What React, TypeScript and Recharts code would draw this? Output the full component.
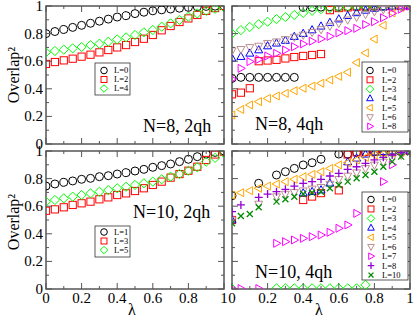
import React from "react";
import { ScatterChart, Scatter, XAxis, YAxis, ReferenceArea } from "recharts";

const W = 415;
const H = 319;
const FONT = "'Liberation Serif', 'DejaVu Serif', serif";
const FRAME = "#555";

const BLACK = "#000000";
const RED = "#ff0000";
const GREEN = "#00ff00";
const BLUE = "#0000ff";
const ORANGE = "#ffa500";
const BROWN = "#bc8f8f";
const MAGENTA = "#ff00ff";
const VIOLET = "#9400d3";
const DKGREEN = "#008b00";

// lambda grid shared by all panels
const lambda = [0, 0.05, 0.1, 0.15, 0.2, 0.25, 0.3, 0.35, 0.4, 0.45, 0.5, 0.55, 0.6, 0.65, 0.7, 0.75, 0.8, 0.85, 0.9, 0.95, 1];
const axisTicks = [0, 0.1, 0.2, 0.3, 0.4, 0.5, 0.6, 0.7, 0.8, 0.9, 1];
const tickLabels = ["0", "0.2", "0.4", "0.6", "0.8", "1"];

// N=8, 2qh
const n8q2L0 = [0.8, 0.815, 0.83, 0.845, 0.86, 0.875, 0.89, 0.905, 0.92, 0.93, 0.945, 0.955, 0.965, 0.972, 0.978, 0.984, 0.99, 0.994, 0.997, 0.999, 1.0];
const n8q2L2 = [0.58, 0.594, 0.606, 0.618, 0.633, 0.647, 0.664, 0.681, 0.7, 0.717, 0.739, 0.763, 0.79, 0.824, 0.855, 0.884, 0.91, 0.935, 0.965, 0.985, 1.0];
const n8q2L4 = [0.664, 0.674, 0.684, 0.693, 0.703, 0.717, 0.727, 0.741, 0.758, 0.773, 0.79, 0.809, 0.826, 0.85, 0.874, 0.899, 0.923, 0.946, 0.965, 0.98, 0.99];

// N=8, 4qh
const n8q4L0 = [0.475, 0.483, 0.483, 0.483, 0.483, 0.483, 0.483, 0.483, 0.99, 0.99, 0.992, 0.994, 0.995, 0.996, 0.997, 0.998, 0.999, 1, 1, 1, 1];
const n8q4L2 = [0.36, 0.372, 0.404, 0.6, 0.605, 0.61, 0.62, 0.63, 0.638, 0.645, 0.652, 0.97, 0.985, 0.99, 0.995, 0.996, 0.997, 0.998, 0.999, 1, 1];
const n8q4L3 = [0.8, 0.825, 0.848, 0.868, 0.886, 0.905, 0.92, 0.935, 0.95, 0.965, 0.977, 0.985, 0.99, 0.993, 0.995, 0.997, 0.998, 0.999, 1, 1, 1];
const n8q4L4 = [0.621, 0.633, 0.657, 0.681, 0.71, 0.73, 0.75, 0.778, 0.8, 0.826, 0.853, 0.88, 0.905, 0.93, 0.95, 0.968, 0.982, 0.992, 0.997, 1, 1];
const n8q4L5 = [0.21, 0.25, 0.283, 0.307, 0.33, 0.348, 0.367, 0.386, 0.404, 0.42, 0.44, 0.464, 0.49, 0.52, 0.59, 0.66, 0.76, 0.86, 0.95, 0.99, 1];
const n8q4L6 = [0.676, 0.686, 0.7, 0.71, 0.73, 0.741, 0.758, 0.775, 0.79, 0.81, 0.83, 0.855, 0.875, 0.9, 0.92, 0.94, 0.96, 0.975, 0.99, 0.997, 1];
const n8q4L8 = [0.471, 0.548, 0.597, 0.613, 0.638, 0.657, 0.681, 0.705, 0.725, 0.745, 0.762, 0.78, 0.805, 0.821, 0.838, 0.866, 0.886, 0.915, 0.947, 0.977, 1];

// N=10, 2qh
const n10q2L1 = [0.746, 0.761, 0.773, 0.783, 0.795, 0.802, 0.814, 0.821, 0.833, 0.843, 0.855, 0.867, 0.882, 0.894, 0.906, 0.923, 0.94, 0.959, 0.978, 0.99, 1.0];
const n10q2L3 = [0.567, 0.577, 0.592, 0.609, 0.621, 0.633, 0.65, 0.664, 0.681, 0.693, 0.71, 0.73, 0.754, 0.778, 0.807, 0.833, 0.857, 0.886, 0.935, 0.975, 0.995];
const n10q2L5 = [0.633, 0.645, 0.657, 0.669, 0.681, 0.693, 0.705, 0.717, 0.73, 0.741, 0.754, 0.766, 0.778, 0.795, 0.814, 0.833, 0.857, 0.882, 0.923, 0.95, 0.985];

// N=10, 4qh (null = no point)
const n10q4L0 = [0.676, null, null, 0.766, null, 0.826, 0.85, 0.874, 0.899, 0.915, 0.94, null, 0.978, 0.978, 0.99, 0.993, 0.995, 0.997, 0.998, 1, 1];
const n10q4L2 = [0.5, null, null, null, null, null, null, null, 0.645, 0.67, 0.695, null, 0.715, 0.975, 0.99, 0.993, 0.995, 0.997, 0.998, 1, 1];
const n10q4L3 = [0.003, null, null, null, null, 0.005, 0.005, 0.005, 0.005, 0.005, 0.005, 0.005, 0.005, 0.005, 0.005, 0.03, null, 0.975, 0.985, 0.99, 1];
const n10q4L4 = [0.5, null, null, null, null, null, null, null, 0.695, 0.705, 0.717, 0.766, null, 0.92, 0.947, 0.976, 0.99, 0.995, 1, 1, 1];
const n10q4L5 = [0.681, 0.698, 0.712, 0.73, 0.746, 0.761, 0.778, 0.795, 0.814, 0.831, 0.85, 0.874, 0.899, 0.915, 0.935, 0.954, 0.971, 0.978, 0.985, 0.99, 1];
const n10q4L6 = [0.5, null, null, 0.616, null, 0.669, 0.688, 0.7, 0.712, 0.725, 0.737, 0.76, 0.795, 0.819, 0.843, 0.874, 0.899, 0.92, 0.947, 0.97, 1];
const n10q4L7 = [0.003, 0.003, null, 0.003, null, 0.331, 0.343, 0.355, 0.367, 0.379, 0.391, 0.411, 0.44, 0.464, 0.548, null, null, 0.778, 0.9, null, 1];
const n10q4L8 = [0.56, 0.609, null, 0.664, 0.688, 0.705, 0.722, 0.746, 0.766, 0.778, 0.795, 0.819, 0.838, 0.867, 0.886, 0.911, 0.935, 0.954, 0.971, 0.99, 1];
const n10q4L10 = [0.476, 0.529, 0.543, 0.592, null, 0.633, 0.65, 0.669, 0.688, 0.698, 0.705, 0.73, 0.754, 0.778, 0.802, 0.826, 0.85, 0.886, 0.923, 0.959, 0.99];

const toPoints = (vals) =>
  vals.map((v, i) => (v == null ? null : { x: lambda[i], y: v })).filter(Boolean);

function Sym({ cx, cy, kind, color, s = 4 }) {
  const st = { fill: "none", stroke: color, strokeWidth: 1 };
  if (cx == null || cy == null) return null;
  switch (kind) {
    case "circle":
      return <circle cx={cx} cy={cy} r={s} {...st} />;
    case "square":
      return <rect x={cx - s * 0.9} y={cy - s * 0.9} width={s * 1.8} height={s * 1.8} {...st} />;
    case "diamond": {
      const d = s * 1.15;
      return <polygon points={`${cx},${cy - d} ${cx + d},${cy} ${cx},${cy + d} ${cx - d},${cy}`} {...st} />;
    }
    case "up":
      return <polygon points={`${cx},${cy - s * 1.1} ${cx + s},${cy + s * 0.7} ${cx - s},${cy + s * 0.7}`} {...st} />;
    case "down":
      return <polygon points={`${cx},${cy + s * 1.1} ${cx + s},${cy - s * 0.7} ${cx - s},${cy - s * 0.7}`} {...st} />;
    case "left":
      return <polygon points={`${cx - s * 1.1},${cy} ${cx + s * 0.7},${cy - s} ${cx + s * 0.7},${cy + s}`} {...st} />;
    case "right":
      return <polygon points={`${cx + s * 1.1},${cy} ${cx - s * 0.7},${cy - s} ${cx - s * 0.7},${cy + s}`} {...st} />;
    case "plus":
      return <path d={`M${cx - s} ${cy}H${cx + s}M${cx} ${cy - s}V${cy + s}`} {...st} strokeWidth={1.3} />;
    case "x": {
      const d = s * 0.75;
      return <path d={`M${cx - d} ${cy - d}L${cx + d} ${cy + d}M${cx - d} ${cy + d}L${cx + d} ${cy - d}`} {...st} strokeWidth={1.3} />;
    }
    default:
      return null;
  }
}

function XTick({ x, y, index, ph, show }) {
  const major = index % 2 === 0;
  const len = major ? 6 : 3;
  return (
    <g>
      <line x1={x} x2={x} y1={y} y2={y - len} stroke={FRAME} />
      <line x1={x} x2={x} y1={y - ph} y2={y - ph + len} stroke={FRAME} />
      {show && major && (
        <text x={x} y={y + 14} textAnchor="middle" fontFamily={FONT} fontSize={15} fill="#000">
          {tickLabels[index / 2]}
        </text>
      )}
    </g>
  );
}

function YTick({ x, y, index, pw, show }) {
  const major = index % 2 === 0;
  const len = major ? 6 : 3;
  return (
    <g>
      <line x1={x} x2={x + len} y1={y} y2={y} stroke={FRAME} />
      <line x1={x + pw} x2={x + pw - len} y1={y} y2={y} stroke={FRAME} />
      {show && major && (
        <text x={x - 3} y={y + 5} textAnchor="end" fontFamily={FONT} fontSize={15} fill="#000">
          {tickLabels[index / 2]}
        </text>
      )}
    </g>
  );
}

function Panel({ rect, series, xLabels, yLabels }) {
  const pw = rect.r - rect.l;
  const ph = rect.b - rect.t;
  const YW = 30;
  const XH = 20;
  const margin = { left: rect.l - YW, right: W - rect.r, top: rect.t, bottom: H - rect.b - XH };
  return (
    <div style={{ position: "absolute", left: 0, top: 0 }}>
      <ScatterChart width={W} height={H} margin={margin}>
        <XAxis
          type="number"
          dataKey="x"
          domain={[0, 1]}
          allowDataOverflow
          ticks={axisTicks}
          interval={0}
          tickSize={0}
          tickMargin={0}
          axisLine={false}
          tickLine={false}
          height={XH}
          tick={(p) => <XTick {...p} ph={ph} show={xLabels} />}
        />
        <YAxis
          type="number"
          dataKey="y"
          domain={[0, 1]}
          allowDataOverflow
          ticks={axisTicks}
          interval={0}
          tickSize={0}
          tickMargin={0}
          axisLine={false}
          tickLine={false}
          width={YW}
          tick={(p) => <YTick {...p} pw={pw} show={yLabels} />}
        />
        <ReferenceArea x1={0} x2={1} y1={0} y2={1} fill="none" fillOpacity={0} stroke={FRAME} strokeWidth={1.5} ifOverflow="visible" />
        {series.map((s) => (
          <Scatter
            key={s.name}
            name={s.name}
            data={toPoints(s.values)}
            isAnimationActive={false}
            shape={(p) => <Sym cx={p.cx} cy={p.cy} kind={s.kind} color={s.color} />}
          />
        ))}
      </ScatterChart>
    </div>
  );
}

function LegendBox({ box, items, y0, step, mx, tx, fs }) {
  return (
    <g>
      <rect x={box.x} y={box.y} width={box.w} height={box.h} fill="#fff" stroke="#333" strokeWidth={0.8} />
      {items.map((s, i) => (
        <g key={s.name}>
          <Sym cx={mx} cy={y0 + i * step} kind={s.kind} color={s.color} s={3.3} />
          <text x={tx} y={y0 + i * step + fs * 0.35} fontFamily={FONT} fontSize={fs} fill="#000">
            {s.name}
          </text>
        </g>
      ))}
    </g>
  );
}

const tlSeries = [
  { name: "L=0", kind: "circle", color: BLACK, values: n8q2L0 },
  { name: "L=2", kind: "square", color: RED, values: n8q2L2 },
  { name: "L=4", kind: "diamond", color: GREEN, values: n8q2L4 },
];
const trSeries = [
  { name: "L=0", kind: "circle", color: BLACK, values: n8q4L0 },
  { name: "L=2", kind: "square", color: RED, values: n8q4L2 },
  { name: "L=3", kind: "diamond", color: GREEN, values: n8q4L3 },
  { name: "L=4", kind: "up", color: BLUE, values: n8q4L4 },
  { name: "L=5", kind: "left", color: ORANGE, values: n8q4L5 },
  { name: "L=6", kind: "down", color: BROWN, values: n8q4L6 },
  { name: "L=8", kind: "right", color: MAGENTA, values: n8q4L8 },
];
const blSeries = [
  { name: "L=1", kind: "circle", color: BLACK, values: n10q2L1 },
  { name: "L=3", kind: "square", color: RED, values: n10q2L3 },
  { name: "L=5", kind: "diamond", color: GREEN, values: n10q2L5 },
];
const brSeries = [
  { name: "L=0", kind: "circle", color: BLACK, values: n10q4L0 },
  { name: "L=2", kind: "square", color: RED, values: n10q4L2 },
  { name: "L=3", kind: "diamond", color: GREEN, values: n10q4L3 },
  { name: "L=4", kind: "up", color: BLUE, values: n10q4L4 },
  { name: "L=5", kind: "left", color: ORANGE, values: n10q4L5 },
  { name: "L=6", kind: "down", color: BROWN, values: n10q4L6 },
  { name: "L=7", kind: "right", color: MAGENTA, values: n10q4L7 },
  { name: "L=8", kind: "plus", color: VIOLET, values: n10q4L8 },
  { name: "L=10", kind: "x", color: DKGREEN, values: n10q4L10 },
];

export default function App() {
  return (
    <div style={{ position: "absolute", left: 0, top: 0, width: W, height: H, background: "#fff" }}>
      <Panel rect={{ l: 46, r: 224, t: 6, b: 144 }} series={tlSeries} xLabels={false} yLabels />
      <Panel rect={{ l: 232, r: 410, t: 6, b: 144 }} series={trSeries} xLabels={false} yLabels={false} />
      <Panel rect={{ l: 46, r: 224, t: 151, b: 289 }} series={blSeries} xLabels yLabels />
      <Panel rect={{ l: 232, r: 410, t: 151, b: 289 }} series={brSeries} xLabels yLabels={false} />
      <svg width={W} height={H} style={{ position: "absolute", left: 0, top: 0 }}>
        <LegendBox box={{ x: 95, y: 63, w: 35, h: 32 }} items={tlSeries} y0={70.5} step={9} mx={104} tx={114} fs={8.5} />
        <LegendBox box={{ x: 362, y: 62, w: 46, h: 70 }} items={trSeries} y0={70.5} step={9.3} mx={370} tx={382} fs={8.5} />
        <LegendBox box={{ x: 95, y: 226, w: 35, h: 31 }} items={blSeries} y0={232} step={9} mx={104} tx={114} fs={8.5} />
        <LegendBox box={{ x: 362, y: 192, w: 46, h: 88 }} items={brSeries} y0={199.5} step={9.45} mx={371} tx={382} fs={8.5} />
        <g fontFamily={FONT} fill="#000">
          <text x={143} y={132} fontSize={18}>N=8, 2qh</text>
          <text x={255} y={130} fontSize={18}>N=8, 4qh</text>
          <text x={133} y={218} fontSize={18}>N=10, 2qh</text>
          <text x={255} y={278} fontSize={18}>N=10, 4qh</text>
          <text transform="translate(19,75) rotate(-90)" textAnchor="middle" fontSize={16}>Overlap²</text>
          <text transform="translate(19,222) rotate(-90)" textAnchor="middle" fontSize={16}>Overlap²</text>
          <text x={132} y={315} textAnchor="middle" fontSize={16}>λ</text>
          <text x={319} y={315} textAnchor="middle" fontSize={16}>λ</text>
        </g>
      </svg>
    </div>
  );
}
